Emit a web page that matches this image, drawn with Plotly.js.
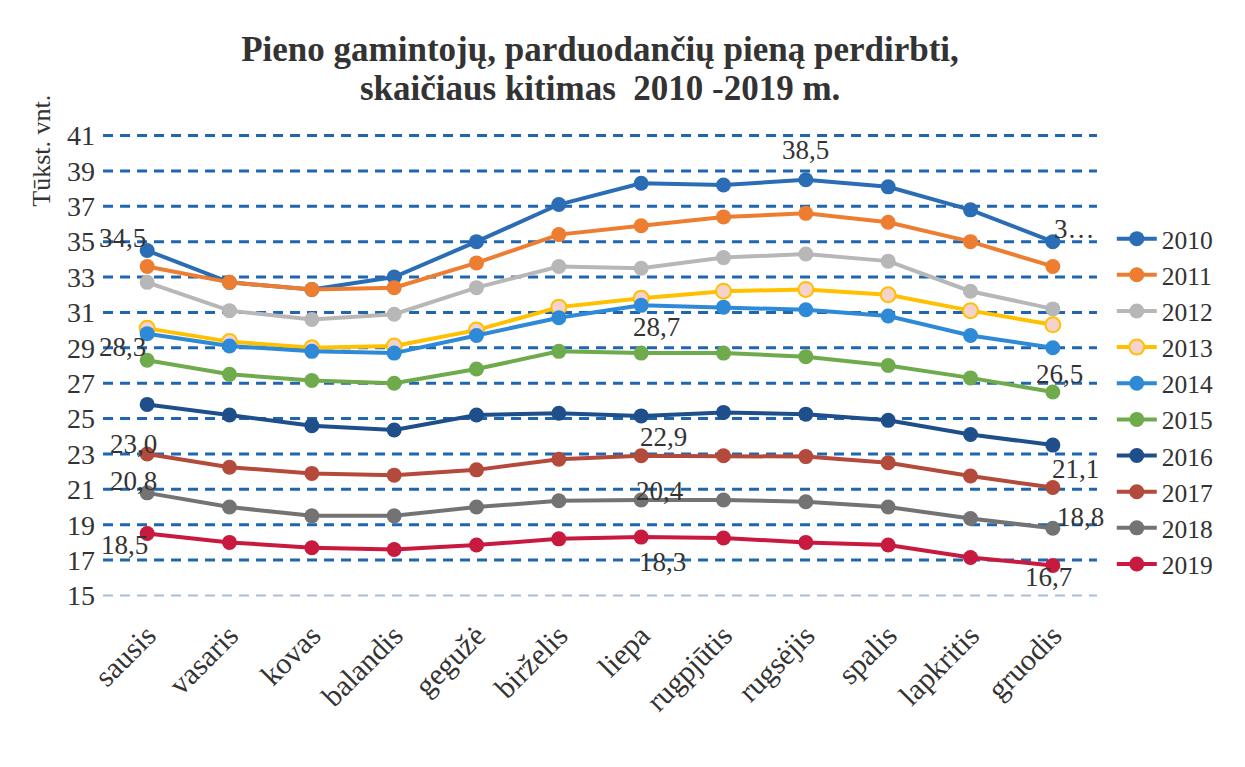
<!DOCTYPE html>
<html>
<head>
<meta charset="utf-8">
<script src="https://cdn.plot.ly/plotly-3.0.1.min.js"></script>
<style>body{margin:0;background:#fff}</style>
</head>
<body>
<div id="chart" style="width:1245px;height:767px"></div>
<script>
var months = ['sausis','vasaris','kovas','balandis','gegužė','birželis','liepa','rugpjūtis','rugsėjis','spalis','lapkritis','gruodis'];
var years = ['2010','2011','2012','2013','2014','2015','2016','2017','2018','2019'];

var y2010 = [34.5,32.7,32.3,33.0,35.0,37.1,38.3,38.2,38.5,38.1,36.8,35.0];
var y2011 = [33.6,32.7,32.3,32.4,33.8,35.4,35.9,36.4,36.6,36.1,35.0,33.6];
var y2012 = [32.7,31.1,30.6,30.9,32.4,33.6,33.5,34.1,34.3,33.9,32.2,31.2];
var y2013 = [30.1,29.35,29.0,29.1,30.0,31.3,31.8,32.2,32.3,32.0,31.1,30.3];
var y2014 = [29.8,29.1,28.8,28.7,29.7,30.7,31.4,31.3,31.15,30.8,29.7,29.0];
var y2015 = [28.3,27.5,27.15,27.0,27.8,28.8,28.7,28.7,28.5,28.0,27.3,26.5];
var y2016 = [25.8,25.2,24.6,24.35,25.2,25.3,25.15,25.35,25.25,24.9,24.1,23.5];
var y2017 = [23.0,22.25,21.9,21.8,22.1,22.7,22.9,22.9,22.85,22.5,21.75,21.1];
var y2018 = [20.8,20.0,19.5,19.5,20.0,20.35,20.4,20.4,20.3,20.0,19.35,18.8];
var y2019 = [18.5,18.0,17.7,17.6,17.85,18.2,18.3,18.25,18.0,17.85,17.15,16.7];

var yTicks = [15,17,19,21,23,25,27,29,31,33,35,37,39,41];

var series = [y2010,y2011,y2012,y2013,y2014,y2015,y2016,y2017,y2018,y2019];
var colors = ['#2a6db5','#ed7d31','#b7b7b7','#ffc000','#2e8ad6','#6fab4c','#1f4f8a','#b44a3c','#737373','#c8193f'];

var font = 'Liberation Serif, Times New Roman, serif';

function fmt(v){ return v.toFixed(1).replace('.', ','); }

var data = series.map(function(s, k){
	var mk = {size: 15, color: colors[k]};
	if (years[k] == '2013') mk = {size: 15, color: '#f6d2cc', line: {color: colors[k], width: 2}};
	return {
		x: months, y: s, name: years[k],
		type: 'scatter', mode: 'lines+markers',
		line: {color: colors[k], width: 4},
		marker: mk
	};
});

// which points carry a value label, and where the label sits
var labels = [
	{s:0, i:0, dx:-25, dy:13},
	{s:0, i:8, dx:0, dy:30},
	{s:0, i:11, dx:22, dy:13, cut:true},
	{s:5, i:0, dx:-25, dy:13},
	{s:5, i:6, dx:15, dy:26},
	{s:5, i:11, dx:7, dy:18},
	{s:7, i:0, dx:-14, dy:10},
	{s:7, i:6, dx:22, dy:19},
	{s:7, i:11, dx:23, dy:19},
	{s:8, i:0, dx:-14, dy:12},
	{s:8, i:6, dx:19, dy:9},
	{s:8, i:11, dx:28, dy:11},
	{s:9, i:0, dx:-23, dy:-11},
	{s:9, i:6, dx:21, dy:-25},
	{s:9, i:11, dx:-4, dy:-12}
];

var annotations = labels.map(function(l){
	var v = series[l.s][l.i];
	return {
		x: months[l.i], y: v, xref: 'x', yref: 'y',
		text: l.cut ? fmt(v).slice(0,1) + '…' : fmt(v),
		showarrow: false, xshift: l.dx, yshift: l.dy,
		font: {family: font, size: 27, color: '#333'}
	};
});

annotations.push({
	xref: 'paper', yref: 'paper', x: 0, y: 0.96, xshift: -64,
	xanchor: 'center', yanchor: 'middle',
	text: 'Tūkst. vnt.', textangle: -90, showarrow: false,
	font: {family: font, size: 26, color: '#333'}
});

// second title line
annotations.push({
	xref: 'paper', yref: 'paper', x: 0.5, y: 1, yshift: 44, xanchor: 'center', yanchor: 'middle',
	text: '<b>skaičiaus kitimas  2010 -2019 m.</b>', showarrow: false,
	font: {family: font, size: 35, color: '#333'}
});

var shapes = yTicks.map(function(t){
	var first = t == yTicks[0];
	return {
		type: 'line', xref: 'paper', yref: 'y', x0: -0.003, x1: 1.003, y0: t, y1: t,
		layer: 'below',
		line: {color: first ? '#a8bfd8' : '#1f66b0', width: first ? 2 : 3, dash: '10px,7px'}
	};
});

var layout = {
	width: 1245, height: 767,
	margin: {l: 106, r: 151, t: 132, b: 168},
	paper_bgcolor: '#fff', plot_bgcolor: '#fff',
	title: {
		text: '<b>Pieno gamintojų, parduodančių pieną perdirbti,</b>',
		font: {family: font, size: 35, color: '#333'},
		x: 0.5, xref: 'paper', xanchor: 'center',
		y: 0.937, yref: 'container', yanchor: 'middle'
	},
	xaxis: {
		type: 'category', range: [-0.5, 11.5],
		tickangle: -45, showgrid: false, showline: false, zeroline: false,
		ticks: '', ticklabelstandoff: 12, tickfont: {family: font, size: 30, color: '#333'}
	},
	yaxis: {
		range: [14.8, 41.2], tickvals: yTicks, showgrid: false, zeroline: false,
		showline: false, ticks: '', ticklabelstandoff: 10, tickfont: {family: font, size: 28, color: '#333'}
	},
	legend: {
		x: 1.018, xanchor: 'left', y: 0.821, yanchor: 'top',
		font: {family: font, size: 25.5, color: '#333'},
		bgcolor: 'rgba(0,0,0,0)', itemwidth: 40
	},
	shapes: shapes,
	annotations: annotations
};

Plotly.newPlot('chart', data, layout, {displayModeBar: false, staticPlot: true});
</script>
</body>
</html>
